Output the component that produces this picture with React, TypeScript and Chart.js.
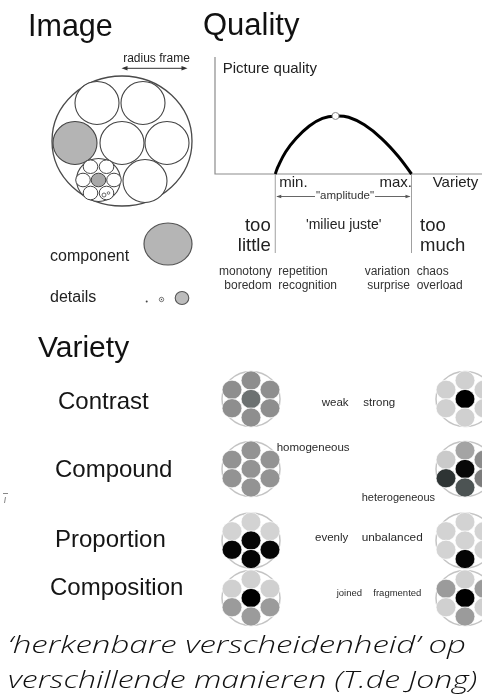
import React, { useEffect, useRef } from 'react';
import { Chart, registerables } from 'chart.js';

Chart.register(...registerables);

// ---------- Quality curve data (variety 0-100 along the axis, quality 0-100) ----------
const varietyValues = [23, 24, 27, 31, 36, 41, 46, 51, 57, 63.5, 70, 75];
const qualityValues = [0, 6, 19, 30.5, 41, 47.5, 49.6, 48.5, 42, 30.5, 15, 0];
const optimumVariety = [46];
const optimumQuality = [49.6];
const amplitudeBounds = [23, 75]; // min., max.

// ---------- Variety aspects ----------
const aspectNames = ['Contrast', 'Compound', 'Proportion', 'Composition'];
const lowLabels = ['weak', 'homogeneous', 'evenly', 'joined'];
const highLabels = ['strong', 'heterogeneous', 'unbalanced', 'fragmented'];
// petal order: top, upper-left, upper-right, centre, lower-left, lower-right, bottom
const lowPatterns = [
  ['#8e8e8e', '#8e8e8e', '#8e8e8e', '#6c7171', '#8e8e8e', '#8e8e8e', '#8e8e8e'],
  ['#939393', '#939393', '#939393', '#939393', '#939393', '#939393', '#939393'],
  ['#d3d3d3', '#d3d3d3', '#d3d3d3', '#050505', '#050505', '#050505', '#050505'],
  ['#d0d0d0', '#d0d0d0', '#d0d0d0', '#000000', '#9b9b9b', '#9b9b9b', '#9b9b9b'],
];
const highPatterns = [
  ['#d0d0d0', '#d0d0d0', '#d0d0d0', '#000000', '#d0d0d0', '#d0d0d0', '#d0d0d0'],
  ['#a4a4a4', '#cacaca', '#8c8c8c', '#080808', '#2e3434', '#7c7c7c', '#4c5353'],
  ['#d3d3d3', '#d3d3d3', '#d3d3d3', '#d3d3d3', '#d3d3d3', '#d3d3d3', '#050505'],
  ['#d0d0d0', '#9b9b9b', '#9b9b9b', '#000000', '#d0d0d0', '#d0d0d0', '#9b9b9b'],
];

// ---------- layout ----------
const W = 482;
const H = 700;
const ROW_Y = [399, 469, 540.5, 598];
const LOW_X = 251;
const HIGH_X = 465;
const PETALS = [
  [0, -18.5], [-19, -9.25], [19, -9.25], [0, 0], [-19, 9.25], [19, 9.25], [0, 18.5],
];

const ARIAL = '"Liberation Sans", Arial, Helvetica, sans-serif';
const OPEN = '"Open Sans", sans-serif';

let mctx: CanvasRenderingContext2D | null = null;
function measure(text: string, font: string): number {
  if (!mctx) mctx = document.createElement('canvas').getContext('2d');
  if (!mctx) return 1;
  mctx.font = font;
  return mctx.measureText(text).width || 1;
}

function T(props: {
  x: number; y: number; s: number; a?: string; f?: string; it?: boolean; c?: string;
  fitW?: number; bg?: string; wt?: number; children: string;
}) {
  const { x, y, s, a = 'l', f = ARIAL, it = false, c = '#1a1a1a', fitW, bg, wt = 400, children } = props;
  const k = f === OPEN ? 0.888 : 0.8465;
  const style: any = {
    position: 'absolute',
    top: y - k * s,
    fontFamily: f,
    fontSize: s,
    fontWeight: wt,
    lineHeight: `${s}px`,
    whiteSpace: 'nowrap',
    color: c,
    fontStyle: it ? 'italic' : 'normal',
  };
  let transform = '';
  if (a === 'l') style.left = x;
  else if (a === 'r') style.right = W - x;
  else {
    style.left = x;
    transform = 'translateX(-50%)';
  }
  if (fitW) {
    const mw = measure(children, `${it ? 'italic ' : ''}${wt} ${s}px ${f}`);
    transform += ` scaleX(${fitW / mw})`;
    style.transformOrigin = 'left center';
  }
  if (bg) {
    style.background = bg;
    style.padding = '0 1px';
  }
  if (transform) style.transform = transform;
  return <div style={style}>{children}</div>;
}

function ellipse(ctx: CanvasRenderingContext2D, x: number, y: number, rx: number, ry: number, fill: string | null, stroke: string | null, lw = 1) {
  ctx.beginPath();
  ctx.ellipse(x, y, rx, ry, 0, 0, Math.PI * 2);
  if (fill) { ctx.fillStyle = fill; ctx.fill(); }
  if (stroke) { ctx.strokeStyle = stroke; ctx.lineWidth = lw; ctx.stroke(); }
}

function arrowHead(ctx: CanvasRenderingContext2D, x: number, y: number, dir: number, len = 6, half = 2.2) {
  ctx.beginPath();
  ctx.moveTo(x, y);
  ctx.lineTo(x - dir * len, y - half);
  ctx.lineTo(x - dir * len, y + half);
  ctx.closePath();
  ctx.fill();
}

function flower(ctx: CanvasRenderingContext2D, cx: number, cy: number, colors: string[]) {
  ellipse(ctx, cx, cy, 29, 27.5, '#ffffff', '#c4c4c4', 1.5);
  colors.forEach((col, i) => {
    const [dx, dy] = PETALS[i];
    ellipse(ctx, cx + dx, cy + dy, 9.9, 9.6, col, '#ffffff', 0.7);
  });
}

const decor = {
  id: 'decor',
  beforeDatasetsDraw(chart: any) {
    const ctx: CanvasRenderingContext2D = chart.ctx;
    const xs = chart.scales.x;
    const ys = chart.scales.y;
    const x0 = xs.getPixelForValue(0);
    const y0 = ys.getPixelForValue(0);
    const yTop = ys.getPixelForValue(100);
    ctx.save();
    // axes
    ctx.strokeStyle = '#8c8c8c';
    ctx.lineWidth = 1.2;
    ctx.beginPath();
    ctx.moveTo(x0, yTop);
    ctx.lineTo(x0, y0);
    ctx.lineTo(W, y0);
    ctx.stroke();
    // min / max verticals
    const xMin = xs.getPixelForValue(amplitudeBounds[0]);
    const xMax = xs.getPixelForValue(amplitudeBounds[1]);
    ctx.strokeStyle = '#a0a0a0';
    ctx.lineWidth = 1;
    ctx.beginPath();
    ctx.moveTo(xMin, y0);
    ctx.lineTo(xMin, 253);
    ctx.moveTo(xMax, y0);
    ctx.lineTo(xMax, 253);
    ctx.stroke();
    // amplitude arrow
    const ay = 196.5;
    ctx.strokeStyle = '#555';
    ctx.fillStyle = '#555';
    ctx.lineWidth = 0.9;
    ctx.beginPath();
    ctx.moveTo(xMin + 2, ay);
    ctx.lineTo(xMax - 2, ay);
    ctx.stroke();
    arrowHead(ctx, xMin + 1, ay, -1, 5, 1.8);
    arrowHead(ctx, xMax - 1, ay, 1, 5, 1.8);
    ctx.restore();
  },
  afterDraw(chart: any) {
    const ctx: CanvasRenderingContext2D = chart.ctx;
    ctx.save();
    // ---- Image diagram ----
    ellipse(ctx, 122, 141, 70, 65, '#ffffff', '#4a4a4a', 1.3);
    const big: [number, number, string][] = [
      [97, 103, '#fff'], [143, 103, '#fff'],
      [75, 143, '#b4b4b4'], [122, 143, '#fff'], [167, 143, '#fff'],
      [98.5, 180, '#fff'], [145, 181, '#fff'],
    ];
    big.forEach(([x, y, c]) => ellipse(ctx, x, y, 22, 21.5, c, '#444', 1.1));
    const sm: [number, number, string][] = [
      [90.5, 166.7, '#fff'], [106.5, 166.7, '#fff'],
      [83, 180, '#fff'], [98.5, 180, '#a8a8a8'], [114, 180, '#fff'],
      [90.5, 193, '#fff'], [106.5, 193, '#fff'],
    ];
    sm.forEach(([x, y, c]) => ellipse(ctx, x, y, 7.3, 6.8, c, '#444', 1));
    ellipse(ctx, 104, 195, 2, 2, '#fff', '#444', 0.8);
    ellipse(ctx, 108.5, 193, 1.3, 1.3, '#fff', '#444', 0.7);
    // radius frame arrow
    ctx.strokeStyle = '#333';
    ctx.fillStyle = '#333';
    ctx.lineWidth = 1;
    ctx.beginPath();
    ctx.moveTo(124, 68.3);
    ctx.lineTo(185, 68.3);
    ctx.stroke();
    arrowHead(ctx, 121.5, 68.3, -1, 6, 2.2);
    arrowHead(ctx, 187.5, 68.3, 1, 6, 2.2);
    // component / details
    ellipse(ctx, 168, 244, 24, 21, '#b5b5b5', '#555', 1.2);
    ellipse(ctx, 146.7, 301.5, 1, 1, '#444', null);
    ellipse(ctx, 161.5, 299.5, 2.2, 2.2, '#fff', '#555', 0.8);
    ellipse(ctx, 161.5, 299.5, 0.7, 0.7, '#555', null);
    ellipse(ctx, 182, 298, 6.8, 6.5, '#bcbcbc', '#555', 1.1);
    // ---- Variety flowers ----
    ROW_Y.forEach((y, i) => {
      flower(ctx, LOW_X, y, lowPatterns[i]);
      flower(ctx, HIGH_X, y, highPatterns[i]);
    });
    // small stray marks at the left edge
    ctx.strokeStyle = '#888';
    ctx.lineWidth = 1;
    ctx.beginPath();
    ctx.moveTo(3, 493.5);
    ctx.lineTo(8, 493.5);
    ctx.moveTo(5.5, 497);
    ctx.lineTo(4.5, 503);
    ctx.stroke();
    ctx.restore();
  },
};

export default function App() {
  const ref = useRef<HTMLCanvasElement | null>(null);

  useEffect(() => {
    if (!ref.current) return;
    const chart = new Chart(ref.current, {
      type: 'line',
      data: {
        datasets: [
          {
            data: varietyValues.map((x, i) => ({ x, y: qualityValues[i] })),
            borderColor: '#000000',
            borderWidth: 3,
            pointRadius: 0,
            tension: 0.4,
            fill: false,
            clip: false,
            order: 1,
          } as any,
          {
            data: optimumVariety.map((x, i) => ({ x, y: optimumQuality[i] })),
            showLine: false,
            pointRadius: 3.5,
            pointBackgroundColor: '#ffffff',
            pointBorderColor: '#8a8a8a',
            pointBorderWidth: 1,
            clip: false,
            order: 0,
          } as any,
        ],
      },
      options: {
        responsive: false,
        animation: false,
        events: [],
        layout: { padding: { left: 215, top: 57, right: 2, bottom: 526 } },
        scales: {
          x: { type: 'linear', min: 0, max: 100, display: false },
          y: { type: 'linear', min: 0, max: 100, display: false },
        },
        plugins: { legend: { display: false }, tooltip: { enabled: false } },
      },
      plugins: [decor],
    });
    return () => chart.destroy();
  }, []);

  const rowLabelX = [58, 55, 55, 50];
  const rowLabelY = [409, 477, 547, 595];
  const lowPos: [number, number, number][] = [[321.7, 406.7, 11.5], [276.7, 451.7, 11.5], [315, 541.7, 11.5], [336.7, 596, 9.5]];
  const highPos: [number, number, number][] = [[363.3, 406.7, 11.5], [361.7, 501.7, 11], [361.7, 541.7, 11.8], [373.3, 596, 9.5]];

  return (
    <div style={{ position: 'absolute', left: 0, top: 0, width: W, height: H, background: '#fff', overflow: 'hidden' }}>
      <canvas ref={ref} width={W} height={H} style={{ position: 'absolute', left: 0, top: 0, width: W, height: H }} />
      <T x={28} y={35.5} s={30.5} c="#111">Image</T>
      <T x={203} y={35.5} s={31} c="#111">Quality</T>
      <T x={156.5} y={62.3} s={12} a="c" c="#222">radius frame</T>
      <T x={50} y={261.7} s={16} c="#222">component</T>
      <T x={50} y={302.7} s={16} c="#222">details</T>

      <T x={222.7} y={73} s={15} c="#222">Picture quality</T>
      <T x={279.3} y={186.7} s={15} c="#222">min.</T>
      <T x={412} y={186.7} s={15} a="r" c="#222">max.</T>
      <T x={432.7} y={186.7} s={15} c="#222">Variety</T>
      <T x={345} y={199.5} s={11.5} a="c" c="#333" bg="#fff">"amplitude"</T>
      <T x={306} y={229} s={14} c="#222">'milieu juste'</T>
      <T x={270.7} y={231.7} s={18.5} a="r" c="#222">too</T>
      <T x={270.7} y={251.7} s={18.5} a="r" c="#222">little</T>
      <T x={420} y={231.7} s={18.5} c="#222">too</T>
      <T x={420} y={251.7} s={18.5} c="#222">much</T>
      <T x={271.7} y={275} s={12} a="r" c="#333">monotony</T>
      <T x={271.7} y={289.3} s={12} a="r" c="#333">boredom</T>
      <T x={278.3} y={275} s={12} c="#333">repetition</T>
      <T x={278.3} y={289.3} s={12} c="#333">recognition</T>
      <T x={410} y={275} s={12} a="r" c="#333">variation</T>
      <T x={410} y={289.3} s={12} a="r" c="#333">surprise</T>
      <T x={416.7} y={275} s={12} c="#333">chaos</T>
      <T x={416.7} y={289.3} s={12} c="#333">overload</T>

      <T x={38} y={357} s={30} c="#111">Variety</T>
      {aspectNames.map((n, i) => (
        <T key={n} x={rowLabelX[i]} y={rowLabelY[i]} s={24} c="#151515">{n}</T>
      ))}
      {lowLabels.map((n, i) => (
        <T key={n} x={lowPos[i][0]} y={lowPos[i][1]} s={lowPos[i][2]} c="#2a2a2a">{n}</T>
      ))}
      {highLabels.map((n, i) => (
        <T key={n} x={highPos[i][0]} y={highPos[i][1]} s={highPos[i][2]} c="#2a2a2a">{n}</T>
      ))}

      <T x={8} y={653} s={24} f={OPEN} it wt={300} c="#111" fitW={458}>{'\u2018herkenbare verscheidenheid\u2019 op'}</T>
      <T x={8} y={688} s={24} f={OPEN} it wt={300} c="#111" fitW={469}>verschillende manieren (T.de Jong)</T>
    </div>
  );
}
